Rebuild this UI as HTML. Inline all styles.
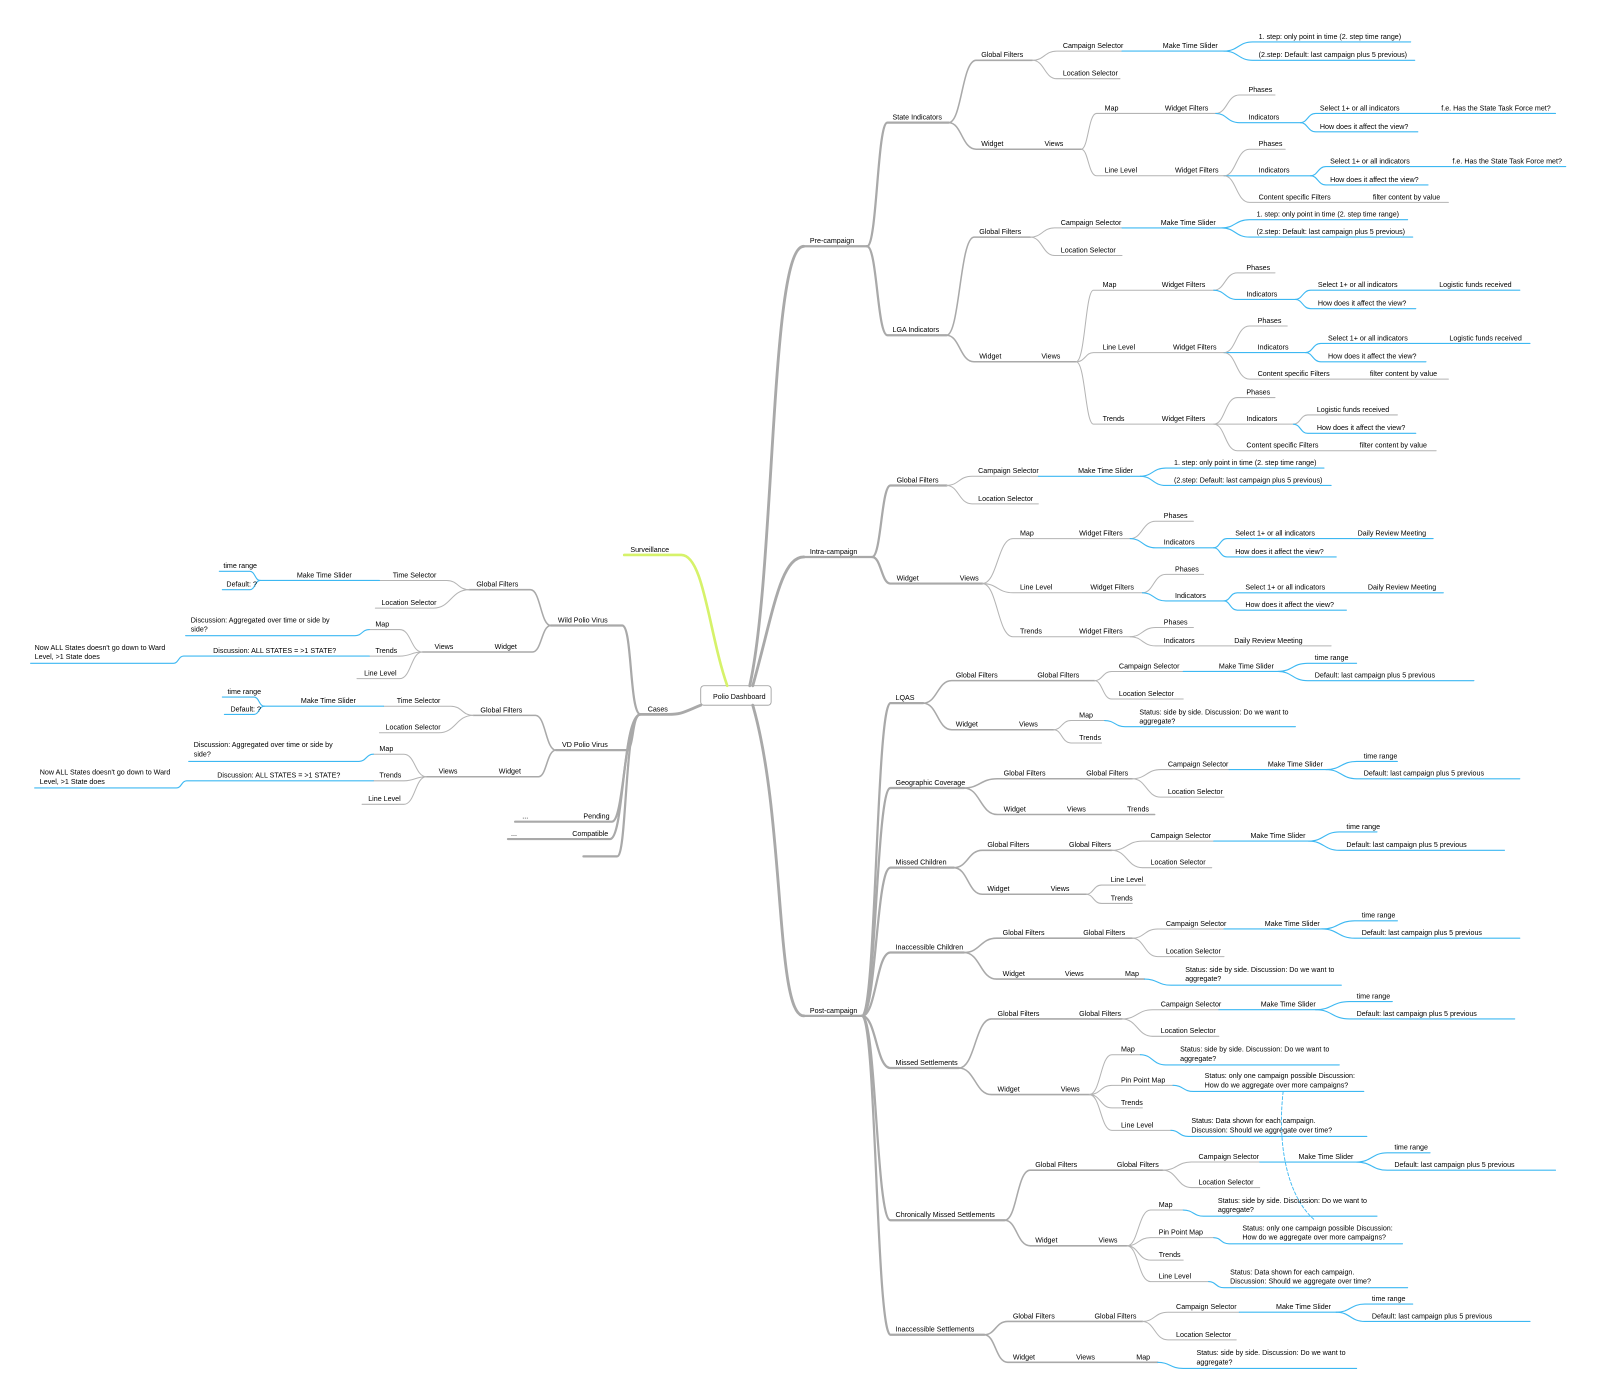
<!DOCTYPE html>
<html><head><meta charset="utf-8"><style>
html,body{margin:0;padding:0;background:#fff;width:1600px;height:1397px;overflow:hidden}
svg{display:block}
text{font-family:"Liberation Sans",sans-serif;font-size:7px;fill:#000}
path{fill:none;stroke-linecap:round}
.a{stroke:#a9a9a9;stroke-width:2.8}
.b{stroke:#a9a9a9;stroke-width:2.2}
.c{stroke:#a9a9a9;stroke-width:1.5}
.d{stroke:#b4b4b4;stroke-width:1}
.e{stroke:#3db8f2;stroke-width:1.1}
.g{stroke:#d6f26a;stroke-width:2.6}
</style></head><body>
<svg width="1600" height="1397" viewBox="0 0 1600 1397" xmlns="http://www.w3.org/2000/svg">
<g transform="scale(1.02,1.022)">
<!-- root -->
<rect x="687" y="671" width="69" height="19" rx="3" fill="#fff" stroke="#999" stroke-width="0.8"/>
<text x="699" y="684">Polio Dashboard</text>
<path class="a" d="M735 671 C760 560 755 241 788 241"/>
<path class="a" d="M738 671 C758 600 765 545 788 545"/>
<path class="a" d="M738 690 C770 800 760 994 788 994"/>
<path class="g" d="M713 671 C695 620 690 543 668 543 H612"/>
<text x="618" y="540">Surveillance</text>
<path class="a" d="M687 690 C670 697 668 699 655 699 H628"/>
<text x="635" y="696">Cases</text>

<!-- PRE-CAMPAIGN -->
<path class="b" d="M788 241 H850"/><text x="794" y="238">Pre-campaign</text>
<path class="b" d="M850 241 C860 241 860 120 870 120 H930"/>
<path class="b" d="M850 241 C860 241 860 328 870 328 H928"/>
<text x="875" y="117">State Indicators</text>
<path class="c" d="M930 120 C943 120 943 59 957 59 H1012"/><text x="962" y="56">Global Filters</text>
<path class="c" d="M930 120 C943 120 943 146 957 146 H1060"/><text x="962" y="143">Widget</text><text x="1024" y="143">Views</text>
<path class="d" d="M1012 59 C1024 59 1024 50 1036 50 H1100"/><text x="1042" y="47">Campaign Selector</text>
<path class="e" d="M1100 50 H1200"/><text x="1140" y="47">Make Time Slider</text>
<path class="e" d="M1200 50 C1214 50 1214 41 1228 41 H1383"/><text x="1234" y="38">1. step: only point in time (2. step time range)</text>
<path class="e" d="M1200 50 C1214 50 1214 59 1228 59 H1387"/><text x="1234" y="56">(2.step: Default: last campaign plus 5 previous)</text>
<path class="d" d="M1012 59 C1024 59 1024 77 1036 77 H1098"/><text x="1042" y="74">Location Selector</text>
<path class="d" d="M1060 146 C1067 146 1067 111 1075 111 H1192"/><text x="1083" y="108">Map</text><text x="1142" y="108">Widget Filters</text>
<path class="d" d="M1192 111 C1203 111 1203 93 1215 93 H1250"/><text x="1224" y="90">Phases</text>
<path class="e" d="M1192 111 C1203 111 1203 120 1215 120 H1275"/><text x="1224" y="117">Indicators</text>
<path class="e" d="M1275 120 C1282 120 1282 111 1290 111 H1525"/><text x="1294" y="108">Select 1+ or all indicators</text><text x="1413" y="108">f.e. Has the State Task Force met?</text>
<path class="e" d="M1275 120 C1282 120 1282 129 1290 129 H1390"/><text x="1294" y="126">How does it affect the view?</text>
<path class="d" d="M1060 146 C1067 146 1067 172 1075 172 H1200"/><text x="1083" y="169">Line Level</text><text x="1152" y="169">Widget Filters</text>
<path class="d" d="M1200 172 C1212 172 1212 146 1225 146 H1260"/><text x="1234" y="143">Phases</text>
<path class="e" d="M1200 172 H1285"/><text x="1234" y="169">Indicators</text>
<path class="e" d="M1285 172 C1292 172 1292 163 1300 163 H1535"/><text x="1304" y="160">Select 1+ or all indicators</text><text x="1424" y="160">f.e. Has the State Task Force met?</text>
<path class="e" d="M1285 172 C1292 172 1292 181 1300 181 H1400"/><text x="1304" y="178">How does it affect the view?</text>
<path class="d" d="M1200 172 C1212 172 1212 198 1225 198 H1420"/><text x="1234" y="195">Content specific Filters</text><text x="1346" y="195">filter content by value</text>

<text x="875" y="325">LGA Indicators</text>
<path class="c" d="M928 328 C941 328 941 232 955 232 H1010"/><text x="960" y="229">Global Filters</text>
<path class="c" d="M928 328 C941 328 941 354 955 354 H1055"/><text x="960" y="351">Widget</text><text x="1021" y="351">Views</text>
<path class="d" d="M1010 232 C1022 232 1022 223 1034 223 H1100"/><text x="1040" y="220">Campaign Selector</text>
<path class="e" d="M1100 223 H1198"/><text x="1138" y="220">Make Time Slider</text>
<path class="e" d="M1198 223 C1211 223 1211 215 1225 215 H1380"/><text x="1232" y="212">1. step: only point in time (2. step time range)</text>
<path class="e" d="M1198 223 C1211 223 1211 232 1225 232 H1385"/><text x="1232" y="229">(2.step: Default: last campaign plus 5 previous)</text>
<path class="d" d="M1010 232 C1022 232 1022 250 1034 250 H1100"/><text x="1040" y="247">Location Selector</text>
<path class="d" d="M1055 354 C1064 354 1064 284 1072 284 H1190"/><text x="1081" y="281">Map</text><text x="1139" y="281">Widget Filters</text>
<path class="d" d="M1190 284 C1201 284 1201 267 1213 267 H1250"/><text x="1222" y="264">Phases</text>
<path class="e" d="M1190 284 C1201 284 1201 293 1213 293 H1270"/><text x="1222" y="290">Indicators</text>
<path class="e" d="M1270 293 C1277 293 1277 284 1285 284 H1490"/><text x="1292" y="281">Select 1+ or all indicators</text><text x="1411" y="281">Logistic funds received</text>
<path class="e" d="M1270 293 C1277 293 1277 302 1285 302 H1388"/><text x="1292" y="299">How does it affect the view?</text>
<path class="d" d="M1055 354 C1064 354 1064 345 1072 345 H1200"/><text x="1081" y="342">Line Level</text><text x="1150" y="342">Widget Filters</text>
<path class="d" d="M1200 345 C1212 345 1212 319 1225 319 H1262"/><text x="1233" y="316">Phases</text>
<path class="e" d="M1200 345 H1280"/><text x="1233" y="342">Indicators</text>
<path class="e" d="M1280 345 C1287 345 1287 336 1295 336 H1500"/><text x="1302" y="333">Select 1+ or all indicators</text><text x="1421" y="333">Logistic funds received</text>
<path class="e" d="M1280 345 C1287 345 1287 354 1295 354 H1398"/><text x="1302" y="351">How does it affect the view?</text>
<path class="d" d="M1200 345 C1212 345 1212 371 1225 371 H1420"/><text x="1233" y="368">Content specific Filters</text><text x="1343" y="368">filter content by value</text>
<path class="d" d="M1055 354 C1064 354 1064 415 1072 415 H1190"/><text x="1081" y="412">Trends</text><text x="1139" y="412">Widget Filters</text>
<path class="d" d="M1190 415 C1201 415 1201 389 1213 389 H1250"/><text x="1222" y="386">Phases</text>
<path class="d" d="M1190 415 H1268"/><text x="1222" y="412">Indicators</text>
<path class="d" d="M1268 415 C1275 415 1275 406 1282 406 H1370"/><text x="1291" y="403">Logistic funds received</text>
<path class="e" d="M1268 415 C1275 415 1275 424 1282 424 H1388"/><text x="1291" y="421">How does it affect the view?</text>
<path class="d" d="M1190 415 C1201 415 1201 441 1213 441 H1408"/><text x="1222" y="438">Content specific Filters</text><text x="1333" y="438">filter content by value</text>

<!-- INTRA -->
<path class="b" d="M788 545 H855"/><text x="794" y="542">Intra-campaign</text>
<path class="b" d="M855 545 C864 545 864 475 873 475 H928"/><text x="879" y="472">Global Filters</text>
<path class="b" d="M855 545 C864 545 864 571 873 571 H963"/><text x="879" y="568">Widget</text><text x="941" y="568">Views</text>
<path class="d" d="M928 475 C940 475 940 466 953 466 H1018"/><text x="959" y="463">Campaign Selector</text>
<path class="e" d="M1018 466 H1118"/><text x="1057" y="463">Make Time Slider</text>
<path class="e" d="M1118 466 C1130 466 1130 458 1143 458 H1298"/><text x="1151" y="455">1. step: only point in time (2. step time range)</text>
<path class="e" d="M1118 466 C1130 466 1130 475 1143 475 H1305"/><text x="1151" y="472">(2.step: Default: last campaign plus 5 previous)</text>
<path class="d" d="M928 475 C940 475 940 493 953 493 H1018"/><text x="959" y="490">Location Selector</text>
<path class="d" d="M963 571 C978 571 978 527 993 527 H1108"/><text x="1000" y="524">Map</text><text x="1058" y="524">Widget Filters</text>
<path class="d" d="M1108 527 C1120 527 1120 510 1133 510 H1170"/><text x="1141" y="507">Phases</text>
<path class="e" d="M1108 527 C1120 527 1120 536 1133 536 H1190"/><text x="1141" y="533">Indicators</text>
<path class="e" d="M1190 536 C1196 536 1196 527 1203 527 H1405"/><text x="1211" y="524">Select 1+ or all indicators</text><text x="1331" y="524">Daily Review Meeting</text>
<path class="e" d="M1190 536 C1196 536 1196 545 1203 545 H1310"/><text x="1211" y="542">How does it affect the view?</text>
<path class="d" d="M963 571 C978 571 978 580 993 580 H1120"/><text x="1000" y="577">Line Level</text><text x="1069" y="577">Widget Filters</text>
<path class="d" d="M1120 580 C1131 580 1131 562 1143 562 H1180"/><text x="1152" y="559">Phases</text>
<path class="e" d="M1120 580 C1131 580 1131 588 1143 588 H1200"/><text x="1152" y="585">Indicators</text>
<path class="e" d="M1200 588 C1206 588 1206 580 1213 580 H1415"/><text x="1221" y="577">Select 1+ or all indicators</text><text x="1341" y="577">Daily Review Meeting</text>
<path class="e" d="M1200 588 C1206 588 1206 597 1213 597 H1320"/><text x="1221" y="594">How does it affect the view?</text>
<path class="d" d="M963 571 C978 571 978 623 993 623 H1108"/><text x="1000" y="620">Trends</text><text x="1058" y="620">Widget Filters</text>
<path class="d" d="M1108 623 C1120 623 1120 614 1133 614 H1170"/><text x="1141" y="611">Phases</text>
<path class="d" d="M1108 623 C1120 623 1120 632 1133 632 H1305"/><text x="1141" y="629">Indicators</text><text x="1210" y="629">Daily Review Meeting</text>

<!-- POST -->
<path class="b" d="M788 994 H845"/><text x="794" y="991">Post-campaign</text>
<path class="b" d="M845 994 C859 994 859 688 873 688 H905"/>
<path class="b" d="M845 994 C859 994 859 771 873 771 H945"/>
<path class="b" d="M845 994 C859 994 859 849 873 849 H935"/>
<path class="b" d="M845 994 C859 994 859 932 873 932 H945"/>
<path class="b" d="M845 994 C859 994 859 1045 873 1045 H940"/>
<path class="b" d="M845 994 C859 994 859 1194 873 1194 H985"/>
<path class="b" d="M845 994 C859 994 859 1306 873 1306 H965"/>
<text x="878" y="685">LQAS</text>
<text x="878" y="768">Geographic Coverage</text>
<text x="878" y="846">Missed Children</text>
<text x="878" y="929">Inaccessible Children</text>
<text x="878" y="1042">Missed Settlements</text>
<text x="878" y="1191">Chronically Missed Settlements</text>
<text x="878" y="1303">Inaccessible Settlements</text>

<!-- LQAS -->
<path class="c" d="M905 688 C919 688 919 666 933 666 H1073"/><text x="937" y="663">Global Filters</text><text x="1017" y="663">Global Filters</text>
<path class="c" d="M905 688 C919 688 919 714 933 714 H1033"/><text x="937" y="711">Widget</text><text x="999" y="711">Views</text>
<path class="d" d="M1073 666 C1081 666 1081 657 1090 657 H1160"/><text x="1097" y="654">Campaign Selector</text>
<path class="e" d="M1160 657 H1253"/><text x="1195" y="654">Make Time Slider</text>
<path class="e" d="M1253 657 C1267 657 1267 649 1282 649 H1330"/><text x="1289" y="646">time range</text>
<path class="e" d="M1253 657 C1267 657 1267 666 1282 666 H1445"/><text x="1289" y="663">Default: last campaign plus 5 previous</text>
<path class="d" d="M1073 666 C1081 666 1081 684 1090 684 H1160"/><text x="1097" y="681">Location Selector</text>
<path class="d" d="M1033 714 C1041 714 1041 705 1050 705 H1083"/><text x="1058" y="702">Map</text>
<path class="e" d="M1083 705 C1093 705 1093 711 1103 711 H1270"/><text x="1117" y="699">Status: side by side. Discussion: Do we want to</text><text x="1117" y="708">aggregate?</text>
<path class="d" d="M1033 714 C1041 714 1041 727 1050 727 H1080"/><text x="1058" y="724">Trends</text>

<!-- Geo -->
<path class="c" d="M945 771 C961 771 961 762 978 762 H1110"/><text x="984" y="759">Global Filters</text><text x="1065" y="759">Global Filters</text>
<path class="c" d="M945 771 C961 771 961 797 978 797 H1132"/><text x="984" y="794">Widget</text><text x="1046" y="794">Views</text><text x="1105" y="794">Trends</text>
<path class="d" d="M1110 762 C1124 762 1124 753 1138 753 H1205"/><text x="1145" y="750">Campaign Selector</text>
<path class="e" d="M1205 753 H1300"/><text x="1243" y="750">Make Time Slider</text>
<path class="e" d="M1300 753 C1315 753 1315 745 1330 745 H1370"/><text x="1337" y="742">time range</text>
<path class="e" d="M1300 753 C1315 753 1315 762 1330 762 H1490"/><text x="1337" y="759">Default: last campaign plus 5 previous</text>
<path class="d" d="M1110 762 C1124 762 1124 780 1138 780 H1200"/><text x="1145" y="777">Location Selector</text>

<!-- Missed Children -->
<path class="c" d="M935 849 C949 849 949 832 963 832 H1090"/><text x="968" y="829">Global Filters</text><text x="1048" y="829">Global Filters</text>
<path class="c" d="M935 849 C949 849 949 875 963 875 H1065"/><text x="968" y="872">Widget</text><text x="1030" y="872">Views</text>
<path class="d" d="M1090 832 C1105 832 1105 823 1120 823 H1190"/><text x="1128" y="820">Campaign Selector</text>
<path class="e" d="M1190 823 H1283"/><text x="1226" y="820">Make Time Slider</text>
<path class="e" d="M1283 823 C1298 823 1298 814 1313 814 H1350"/><text x="1320" y="811">time range</text>
<path class="e" d="M1283 823 C1298 823 1298 832 1313 832 H1475"/><text x="1320" y="829">Default: last campaign plus 5 previous</text>
<path class="d" d="M1090 832 C1105 832 1105 849 1120 849 H1188"/><text x="1128" y="846">Location Selector</text>
<path class="d" d="M1065 875 C1072 875 1072 866 1080 866 H1123"/><text x="1089" y="863">Line Level</text>
<path class="d" d="M1065 875 C1072 875 1072 884 1080 884 H1110"/><text x="1089" y="881">Trends</text>

<!-- Inaccessible Children -->
<path class="c" d="M945 932 C961 932 961 918 977 918 H1110"/><text x="983" y="915">Global Filters</text><text x="1062" y="915">Global Filters</text>
<path class="c" d="M945 932 C961 932 961 958 977 958 H1122"/><text x="983" y="955">Widget</text><text x="1044" y="955">Views</text><text x="1103" y="955">Map</text>
<path class="e" d="M1122 958 C1135 958 1135 964 1148 964 H1315"/><text x="1162" y="951">Status: side by side. Discussion: Do we want to</text><text x="1162" y="960">aggregate?</text>
<path class="d" d="M1110 918 C1122 918 1122 909 1135 909 H1200"/><text x="1143" y="906">Campaign Selector</text>
<path class="e" d="M1200 909 H1296"/><text x="1240" y="906">Make Time Slider</text>
<path class="e" d="M1296 909 C1312 909 1312 901 1328 901 H1370"/><text x="1335" y="898">time range</text>
<path class="e" d="M1296 909 C1312 909 1312 918 1328 918 H1490"/><text x="1335" y="915">Default: last campaign plus 5 previous</text>
<path class="d" d="M1110 918 C1122 918 1122 936 1135 936 H1200"/><text x="1143" y="933">Location Selector</text>

<!-- Missed Settlements -->
<path class="c" d="M940 1045 C956 1045 956 997 972 997 H1100"/><text x="978" y="994">Global Filters</text><text x="1058" y="994">Global Filters</text>
<path class="c" d="M940 1045 C956 1045 956 1071 972 1071 H1068"/><text x="978" y="1068">Widget</text><text x="1040" y="1068">Views</text>
<path class="d" d="M1100 997 C1115 997 1115 988 1130 988 H1195"/><text x="1138" y="985">Campaign Selector</text>
<path class="e" d="M1195 988 H1290"/><text x="1236" y="985">Make Time Slider</text>
<path class="e" d="M1290 988 C1306 988 1306 980 1323 980 H1365"/><text x="1330" y="977">time range</text>
<path class="e" d="M1290 988 C1306 988 1306 997 1323 997 H1485"/><text x="1330" y="994">Default: last campaign plus 5 previous</text>
<path class="d" d="M1100 997 C1115 997 1115 1014 1130 1014 H1195"/><text x="1138" y="1011">Location Selector</text>
<path class="d" d="M1068 1071 C1079 1071 1079 1032 1090 1032 H1118"/><text x="1099" y="1029">Map</text>
<path class="e" d="M1118 1032 C1130 1032 1130 1042 1143 1042 H1313"/><text x="1157" y="1029">Status: side by side. Discussion: Do we want to</text><text x="1157" y="1038">aggregate?</text>
<path class="d" d="M1068 1071 C1079 1071 1079 1062 1090 1062 H1150"/><text x="1099" y="1059">Pin Point Map</text>
<path class="e" d="M1150 1062 C1160 1062 1160 1068 1170 1068 H1337"/><text x="1181" y="1055">Status: only one campaign possible Discussion:</text><text x="1181" y="1064">How do we aggregate over more campaigns?</text>
<path class="d" d="M1068 1071 C1079 1071 1079 1084 1090 1084 H1120"/><text x="1099" y="1081">Trends</text>
<path class="d" d="M1068 1071 C1079 1071 1079 1106 1090 1106 H1148"/><text x="1099" y="1103">Line Level</text>
<path class="e" d="M1148 1106 C1156 1106 1156 1112 1165 1112 H1340"/><text x="1168" y="1099">Status: Data shown for each campaign.</text><text x="1168" y="1108">Discussion: Should we aggregate over time?</text>
<path d="M1258 1068 C1252 1120 1262 1170 1288 1193" stroke="#3db8f2" stroke-width="0.9" stroke-dasharray="3,2" fill="none"/>
<path d="M1286 1189 L1292 1197 L1283 1194 Z" fill="#3db8f2"/>

<!-- Chronically -->
<path class="c" d="M985 1194 C997 1194 997 1145 1010 1145 H1140"/><text x="1015" y="1142">Global Filters</text><text x="1095" y="1142">Global Filters</text>
<path class="c" d="M985 1194 C997 1194 997 1219 1010 1219 H1105"/><text x="1015" y="1216">Widget</text><text x="1077" y="1216">Views</text>
<path class="d" d="M1140 1145 C1154 1145 1154 1137 1168 1137 H1235"/><text x="1175" y="1134">Campaign Selector</text>
<path class="e" d="M1235 1137 H1330"/><text x="1273" y="1134">Make Time Slider</text>
<path class="e" d="M1330 1137 C1345 1137 1345 1128 1360 1128 H1402"/><text x="1367" y="1125">time range</text>
<path class="e" d="M1330 1137 C1345 1137 1345 1145 1360 1145 H1525"/><text x="1367" y="1142">Default: last campaign plus 5 previous</text>
<path class="d" d="M1140 1145 C1154 1145 1154 1162 1168 1162 H1235"/><text x="1175" y="1159">Location Selector</text>
<path class="d" d="M1105 1219 C1116 1219 1116 1184 1128 1184 H1160"/><text x="1136" y="1181">Map</text>
<path class="e" d="M1160 1184 C1170 1184 1170 1190 1180 1190 H1350"/><text x="1194" y="1177">Status: side by side. Discussion: Do we want to</text><text x="1194" y="1186">aggregate?</text>
<path class="d" d="M1105 1219 C1116 1219 1116 1211 1128 1211 H1190"/><text x="1136" y="1208">Pin Point Map</text>
<path class="e" d="M1190 1211 C1197 1211 1197 1217 1205 1217 H1375"/><text x="1218" y="1204">Status: only one campaign possible Discussion:</text><text x="1218" y="1213">How do we aggregate over more campaigns?</text>
<path class="d" d="M1105 1219 C1116 1219 1116 1233 1128 1233 H1160"/><text x="1136" y="1230">Trends</text>
<path class="d" d="M1105 1219 C1116 1219 1116 1254 1128 1254 H1185"/><text x="1136" y="1251">Line Level</text>
<path class="e" d="M1185 1254 C1192 1254 1192 1260 1200 1260 H1380"/><text x="1206" y="1247">Status: Data shown for each campaign.</text><text x="1206" y="1256">Discussion: Should we aggregate over time?</text>

<!-- Inaccessible Settlements -->
<path class="c" d="M965 1306 C976 1306 976 1293 988 1293 H1120"/><text x="993" y="1290">Global Filters</text><text x="1073" y="1290">Global Filters</text>
<path class="c" d="M965 1306 C976 1306 976 1333 988 1333 H1135"/><text x="993" y="1330">Widget</text><text x="1055" y="1330">Views</text><text x="1114" y="1330">Map</text>
<path class="e" d="M1135 1333 C1147 1333 1147 1339 1160 1339 H1330"/><text x="1173" y="1326">Status: side by side. Discussion: Do we want to</text><text x="1173" y="1335">aggregate?</text>
<path class="d" d="M1120 1293 C1132 1293 1132 1284 1145 1284 H1215"/><text x="1153" y="1281">Campaign Selector</text>
<path class="e" d="M1215 1284 H1310"/><text x="1251" y="1281">Make Time Slider</text>
<path class="e" d="M1310 1284 C1324 1284 1324 1276 1338 1276 H1385"/><text x="1345" y="1273">time range</text>
<path class="e" d="M1310 1284 C1324 1284 1324 1293 1338 1293 H1500"/><text x="1345" y="1290">Default: last campaign plus 5 previous</text>
<path class="d" d="M1120 1293 C1132 1293 1132 1311 1145 1311 H1212"/><text x="1153" y="1308">Location Selector</text>

<!-- LEFT: Cases -->
<path class="b" d="M628 699 C617 699 620 612 610 612 H540"/><text x="547" y="609">Wild Polio Virus</text>
<path class="b" d="M628 699 C619 699 622 734 614 734 H545"/><text x="551" y="731">VD Polio Virus</text>
<path class="b" d="M628 699 C612 699 612 804 600 804 H505"/><text x="572" y="801">Pending</text><text x="512" y="801">...</text>
<path class="b" d="M628 699 C610 699 612 821 598 821 H498"/><text x="561" y="818">Compatible</text><text x="501" y="818">...</text>
<path class="b" d="M628 699 C612 699 615 838 605 838 H572"/>

<!-- Wild -->
<path class="c" d="M540 612 C530 612 530 577 520 577 H460"/><text x="467" y="574">Global Filters</text>
<path class="c" d="M540 612 C531 612 531 638 522 638 H414"/><text x="485" y="635">Widget</text><text x="426" y="635">Views</text>
<path class="d" d="M460 577 C449 577 449 568 438 568 H372"/><text x="385" y="565">Time Selector</text>
<path class="e" d="M372 568 H255"/><text x="291" y="565">Make Time Slider</text>
<path class="e" d="M255 568 C250 568 250 559 245 559 H215"/><text x="219" y="556">time range</text>
<path class="e" d="M255 568 C250 568 250 577 245 577 H218"/><text x="222" y="574">Default: ?</text>
<path class="d" d="M460 577 C442 577 442 595 425 595 H368"/><text x="374" y="592">Location Selector</text>
<path class="d" d="M414 638 C403 638 403 616 392 616 H362"/><text x="368" y="613">Map</text>
<path class="e" d="M362 616 C355 616 355 622 348 622 H182"/><text x="187" y="609">Discussion: Aggregated over time or side by</text><text x="187" y="618">side?</text>
<path class="d" d="M414 638 C403 638 403 642 392 642 H362"/><text x="368" y="639">Trends</text>
<path class="e" d="M362 642 H180 C175 642 175 649 170 649 H30"/><text x="209" y="639">Discussion: ALL STATES = &gt;1 STATE?</text><text x="34" y="636">Now ALL States doesn't go down to Ward</text><text x="34" y="645">Level, &gt;1 State does</text>
<path class="d" d="M414 638 C403 638 403 664 392 664 H350"/><text x="357" y="661">Line Level</text>

<!-- VD -->
<path class="c" d="M545 734 C535 734 535 700 525 700 H464"/><text x="471" y="697">Global Filters</text>
<path class="c" d="M545 734 C536 734 536 760 528 760 H418"/><text x="489" y="757">Widget</text><text x="430" y="757">Views</text>
<path class="d" d="M464 700 C453 700 453 691 442 691 H376"/><text x="389" y="688">Time Selector</text>
<path class="e" d="M376 691 H259"/><text x="295" y="688">Make Time Slider</text>
<path class="e" d="M259 691 C254 691 254 682 249 682 H218"/><text x="223" y="679">time range</text>
<path class="e" d="M259 691 C254 691 254 699 249 699 H220"/><text x="226" y="696">Default: ?</text>
<path class="d" d="M464 700 C447 700 447 717 430 717 H372"/><text x="378" y="714">Location Selector</text>
<path class="d" d="M418 760 C407 760 407 738 396 738 H366"/><text x="372" y="735">Map</text>
<path class="e" d="M366 738 C359 738 359 745 352 745 H185"/><text x="190" y="731">Discussion: Aggregated over time or side by</text><text x="190" y="740">side?</text>
<path class="d" d="M418 760 C407 760 407 764 396 764 H366"/><text x="372" y="761">Trends</text>
<path class="e" d="M366 764 H183 C178 764 178 771 173 771 H34"/><text x="213" y="761">Discussion: ALL STATES = &gt;1 STATE?</text><text x="39" y="758">Now ALL States doesn't go down to Ward</text><text x="39" y="767">Level, &gt;1 State does</text>
<path class="d" d="M418 760 C407 760 407 787 396 787 H355"/><text x="361" y="784">Line Level</text>
</g>
</svg>
</body></html>
